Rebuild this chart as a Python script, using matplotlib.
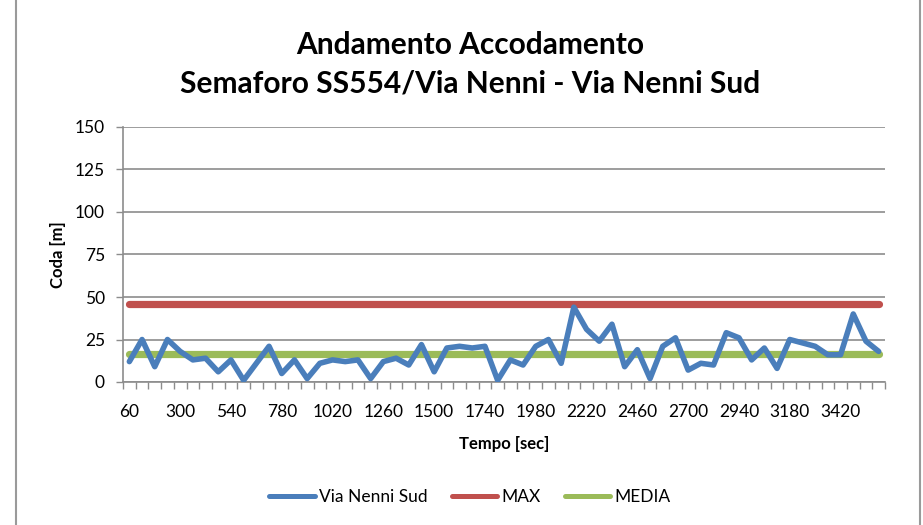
import matplotlib.pyplot as plt
from matplotlib.lines import Line2D

# tempo in secondi (un campione ogni 60 s)
tempi = list(range(60, 3601, 60))
coda_via_nenni_sud = [
    12, 25, 9, 25, 18, 13, 14, 6, 13, 1,
    11, 21, 5, 13, 2, 11, 13, 12, 13, 2,
    12, 14, 10, 22, 6, 20, 21, 20, 21, 1,
    13, 10, 21, 25, 11, 44, 31, 24, 34, 9,
    19, 2, 21, 26, 7, 11, 10, 29, 26, 13,
    20, 8, 25, 23, 21, 16, 16, 40, 24, 18,
]
coda_max = 46
coda_media = 16.7

blu = '#4A7EBB'
rosso = '#C0504D'
verde = '#9BBB59'
grigio = '#8C8C8C'

plt.rcParams['font.family'] = ['Lato', 'DejaVu Sans']

fig = plt.figure(figsize=(9.23, 5.25), dpi=100)
ax = fig.add_axes([123 / 923, 1 - 382 / 525, 762 / 923, 255 / 525])

idx = list(range(len(tempi)))
ax.plot(idx, [coda_max] * len(idx), color=rosso, lw=5.2, solid_capstyle='round', zorder=3)
ax.plot(idx, [coda_media] * len(idx), color=verde, lw=5.2, solid_capstyle='round', zorder=3)
ax.plot(idx, coda_via_nenni_sud, color=blu, lw=4.0, solid_joinstyle='round',
        solid_capstyle='round', zorder=4)

ax.set_xlim(-0.5, len(idx) - 0.5)
ax.set_ylim(0, 150)
ax.set_yticks(range(0, 151, 25))
ax.yaxis.grid(True, color=grigio, lw=1.2)
ax.set_axisbelow(True)

# tacche tra le categorie, etichette ogni 4 campioni
ax.set_xticks([i - 0.5 for i in range(len(idx) + 1)])
ax.set_xticklabels([])
ax.set_xticks(idx[::4], minor=True)
ax.set_xticklabels([str(t) for t in tempi[::4]], minor=True)
ax.tick_params(axis='x', which='major', length=5, width=1, color=grigio, direction='out')
ax.tick_params(axis='x', which='minor', length=0, pad=16, labelsize=12.5)
ax.tick_params(axis='y', length=5, width=1, color=grigio, labelsize=12.5, pad=8)

for lato in ['top', 'right']:
    ax.spines[lato].set_visible(False)
for lato in ['left', 'bottom']:
    ax.spines[lato].set_color(grigio)
    ax.spines[lato].set_linewidth(1.2)

ax.set_xlabel('Tempo [sec]', fontsize=12, fontweight='bold', labelpad=11)
ax.set_ylabel('Coda [m]', fontsize=12, fontweight='bold', labelpad=6)

fig.text(470 / 923, 1 - 45 / 525, 'Andamento Accodamento', ha='center', va='center',
         fontsize=21.5, fontweight='bold')
fig.text(470 / 923, 1 - 83 / 525, 'Semaforo SS554/Via Nenni - Via Nenni Sud', ha='center',
         va='center', fontsize=21.5, fontweight='bold')

handles = [Line2D([0], [0], color=c, lw=3.6, solid_capstyle='round') for c in (blu, rosso, verde)]
fig.legend(handles, ['Via Nenni Sud', 'MAX', 'MEDIA'], loc='center', ncol=3,
           bbox_to_anchor=(470 / 923, 1 - 497 / 525), frameon=False, fontsize=12.5,
           handlelength=2.6, handletextpad=0.25, columnspacing=1.4)

# bordo del grafico
for x in (16 / 923, 920 / 923):
    fig.add_artist(Line2D([x, x], [0, 1], color='#9A9A9A', lw=1.5))

fig.savefig('out.png', dpi=100)
